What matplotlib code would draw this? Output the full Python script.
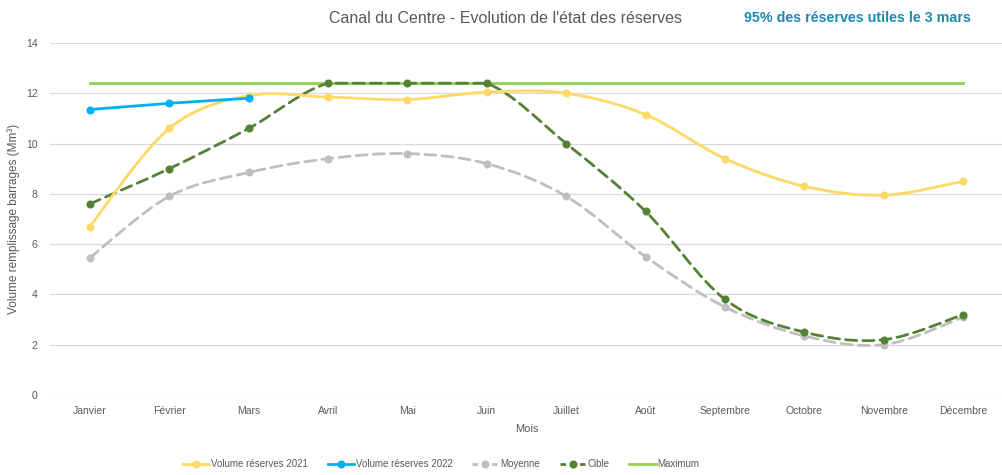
import matplotlib
matplotlib.use("Agg")

import matplotlib.pyplot as plt
import numpy as np
from matplotlib.lines import Line2D
from matplotlib.patches import PathPatch
from matplotlib.path import Path

months = [
    "Janvier", "Février", "Mars", "Avril", "Mai", "Juin",
    "Juillet", "Août", "Septembre", "Octobre", "Novembre", "Décembre",
]

volume_2021 = [6.7, 10.6, 11.9, 11.85, 11.75, 12.05, 12.0, 11.15, 9.4, 8.3, 7.95, 8.5]
volume_2022 = [11.35, 11.6, 11.8]
moyenne = [5.45, 7.9, 8.85, 9.4, 9.6, 9.2, 7.9, 5.5, 3.5, 2.35, 2.0, 3.1]
cible = [7.6, 9.0, 10.6, 12.4, 12.4, 12.4, 10.0, 7.3, 3.8, 2.5, 2.2, 3.2]
maximum = [12.4] * 12

FONT = ["Liberation Sans Narrow", "Liberation Sans", "DejaVu Sans"]
plt.rcParams["font.family"] = FONT
TEXT_GREY = "#595959"


def smooth_path(x, y):
    """Courbe de Bézier lissée (style Excel) passant par les points."""
    pts = np.column_stack([x, y]).astype(float)
    n = len(pts)
    verts = [pts[0]]
    codes = [Path.MOVETO]
    for i in range(n - 1):
        p0 = pts[max(i - 1, 0)]
        p1 = pts[i]
        p2 = pts[i + 1]
        p3 = pts[min(i + 2, n - 1)]
        if p1[1] == p2[1]:
            # segment plat : pas de dépassement
            c1 = p1 + (p2 - p1) / 3.0
            c2 = p2 - (p2 - p1) / 3.0
        else:
            c1 = p1 + (p2 - p0) / 6.0
            c2 = p2 - (p3 - p1) / 6.0
        verts += [c1, c2, p2]
        codes += [Path.CURVE4] * 3
    return Path(verts, codes)


def draw_series(ax, values, color, linestyle, marker=True, smooth=True, lw=2.0):
    x = np.arange(len(values))
    if smooth:
        patch = PathPatch(
            smooth_path(x, values),
            facecolor="none",
            edgecolor=color,
            linewidth=lw,
            linestyle=linestyle,
            capstyle="round",
            zorder=3,
        )
        ax.add_patch(patch)
    else:
        ax.plot(x, values, color=color, linewidth=lw, linestyle=linestyle, zorder=3)
    if marker:
        ax.plot(x, values, linestyle="none", marker="o", markersize=4.8,
                color=color, zorder=4)


fig = plt.figure(figsize=(10.03, 4.75), dpi=100)
ax = fig.add_axes([0.0499, 0.1684, 0.9501, 0.7411])

draw_series(ax, maximum, "#92D050", "-", marker=False, smooth=False)
draw_series(ax, moyenne, "#BFBFBF", (0, (4, 2.2)))
draw_series(ax, cible, "#548235", (0, (4, 2.2)))
draw_series(ax, volume_2021, "#FFD966", "-")
draw_series(ax, volume_2022, "#00B0F0", "-")

ax.set_xlim(-0.5, len(months) - 0.5)
ax.set_ylim(0, 14)
ax.set_yticks(np.arange(0, 15, 2))
ax.set_xticks(np.arange(len(months)))
ax.set_xticklabels(months)
ax.tick_params(axis="both", length=0, labelsize=7.5, labelcolor=TEXT_GREY)
ax.tick_params(axis="x", pad=8)
ax.tick_params(axis="y", pad=9)
ax.grid(axis="y", color="#D9D9D9", linewidth=0.9)
ax.set_axisbelow(True)
for spine in ax.spines.values():
    spine.set_visible(False)

ax.set_xlabel("Mois", fontsize=8, color=TEXT_GREY, labelpad=6)
ax.set_ylabel("Volume remplissage barrages (Mm³)", fontsize=8.5,
              color=TEXT_GREY, labelpad=4)

fig.text(0.504, 0.962, "Canal du Centre - Evolution de l'état des réserves",
         ha="center", va="center", fontsize=11.5, color=TEXT_GREY)
fig.text(0.855, 0.962, "95% des réserves utiles le 3 mars",
         ha="center", va="center", fontsize=10.3, fontweight="bold",
         color="#1A8AAF")

handles = [
    Line2D([], [], color="#FFD966", lw=2.0, marker="o", markersize=4.8),
    Line2D([], [], color="#00B0F0", lw=2.0, marker="o", markersize=4.8),
    Line2D([], [], color="#BFBFBF", lw=2.0, ls=(0, (2, 1.5)), marker="o", markersize=4.8),
    Line2D([], [], color="#548235", lw=2.0, ls=(0, (2, 1.5)), marker="o", markersize=4.8),
    Line2D([], [], color="#92D050", lw=2.0),
]
labels = ["Volume réserves 2021", "Volume réserves 2022", "Moyenne", "Cible", "Maximum"]
leg = fig.legend(handles, labels, loc="center", bbox_to_anchor=(0.44, 0.023),
                 ncol=5, frameon=False, fontsize=7, handlelength=2.7,
                 handletextpad=0.2, columnspacing=2.0)
for text in leg.get_texts():
    text.set_color(TEXT_GREY)

fig.savefig("out.png", dpi=100)
